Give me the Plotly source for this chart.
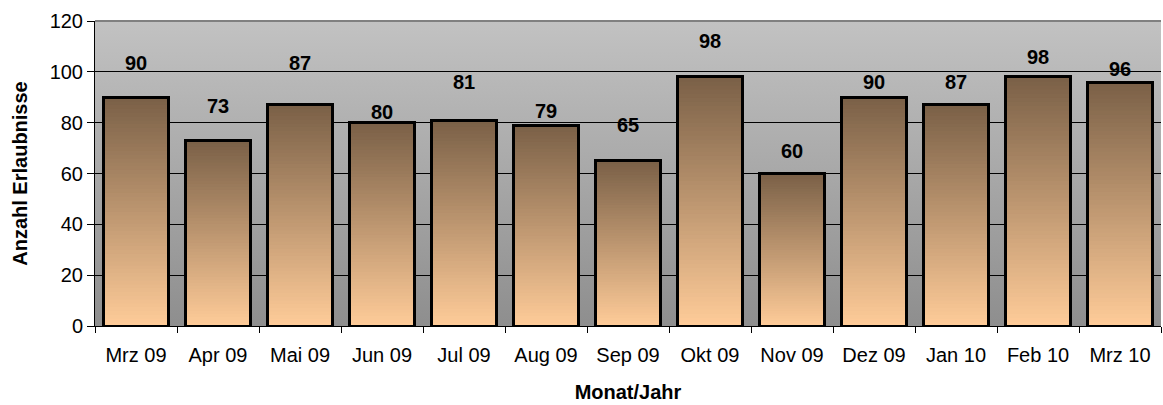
import base64
import plotly.graph_objects as go

# ---- data ----
months = ["Mrz 09", "Apr 09", "Mai 09", "Jun 09", "Jul 09", "Aug 09", "Sep 09",
          "Okt 09", "Nov 09", "Dez 09", "Jan 10", "Feb 10", "Mrz 10"]
permits = [90, 73, 87, 80, 81, 79, 65, 98, 60, 90, 87, 98, 96]

# ---- styling ----
FONT = "Liberation Sans, Arial, sans-serif"
label_lift = [34, 34, 42, 11, 38, 14, 36, 36, 23, 15, 23, 20, 13]  # px above bar top
TOP_RGB = (122, 96, 71)
BOTTOM_RGB = (255, 204, 153)
N_SEG = 60

fig = go.Figure()

# gradient bars built from stacked slices of each bar
for k in range(N_SEG):
    f = (k + 0.5) / N_SEG
    c = tuple(round(BOTTOM_RGB[i] + (TOP_RGB[i] - BOTTOM_RGB[i]) * f) for i in range(3))
    col = "rgb(%d,%d,%d)" % c
    fig.add_trace(go.Bar(
        x=months, y=[v / N_SEG for v in permits],
        marker=dict(color=col, line=dict(color=col, width=0.6)),
        hoverinfo="skip", showlegend=False,
    ))

# bar outlines on an overlaid axis pair
fig.add_trace(go.Bar(
    x=months, y=permits, xaxis="x2", yaxis="y2",
    marker=dict(color="rgba(0,0,0,0)", line=dict(color="black", width=3)),
    hovertemplate="%{x}: %{y}<extra></extra>", showlegend=False,
))

# value labels
for m, v, lift in zip(months, permits, label_lift):
    fig.add_annotation(x=m, y=v, xref="x", yref="y", text="<b>%d</b>" % v,
                       showarrow=False, yshift=lift, yanchor="middle",
                       font=dict(family=FONT, size=20, color="black"))

svg = ('<svg xmlns="http://www.w3.org/2000/svg" width="100" height="100" preserveAspectRatio="none">'
       '<defs><linearGradient id="g" x1="0" y1="0" x2="0" y2="1">'
       '<stop offset="0" stop-color="#c2c2c2"/><stop offset="1" stop-color="#8e8e8e"/>'
       '</linearGradient></defs><rect width="100" height="100" fill="url(#g)"/></svg>')
src = "data:image/svg+xml;base64," + base64.b64encode(svg.encode()).decode()

fig.update_layout(
    width=1163, height=405,
    margin=dict(l=95, r=2, t=21, b=79),
    paper_bgcolor="white", plot_bgcolor="rgba(0,0,0,0)",
    barmode="stack", bargap=0.21,
    font=dict(family=FONT, size=20, color="black"),
    images=[dict(source=src, xref="paper", yref="paper", x=0, y=1, sizex=1, sizey=1,
                 sizing="stretch", layer="below", xanchor="left", yanchor="top")],
    xaxis=dict(
        categoryorder="array", categoryarray=months,
        showline=True, linecolor="black", linewidth=1,
        ticks="outside", ticklen=6, tickcolor="black", tickson="boundaries",
        ticklabelstandoff=11,
        showgrid=False,
        title=dict(text="<b>Monat/Jahr</b>", standoff=19, font=dict(size=20)),
        tickfont=dict(size=20),
    ),
    yaxis=dict(
        range=[0, 120], dtick=20,
        showline=True, linecolor="black", linewidth=1,
        ticks="outside", ticklen=7, tickcolor="black",
        showgrid=True, gridcolor="black", gridwidth=1,
        zeroline=False,
        title=dict(text="<b>Anzahl Erlaubnisse</b>", standoff=16, font=dict(size=20)),
        tickfont=dict(size=20),
    ),
    xaxis2=dict(overlaying="x", visible=False, categoryorder="array", categoryarray=months),
    yaxis2=dict(overlaying="y", visible=False, range=[0, 120]),
    shapes=[dict(type="line", xref="paper", yref="paper", x0=0, x1=1, y0=1, y1=1,
                 line=dict(color="#808080", width=2))],
)

fig.write_html("out.html", config={"displayModeBar": False},
               post_script="document.body.style.margin='0';")
